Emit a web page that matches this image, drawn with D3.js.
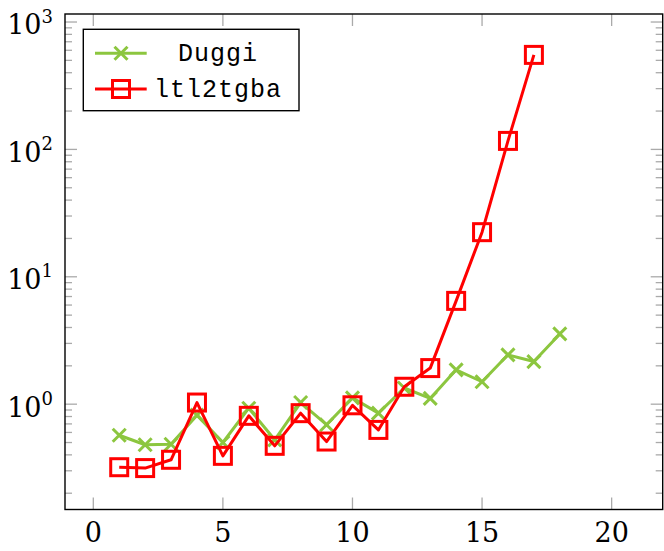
<!DOCTYPE html>
<html>
<head>
<meta charset="utf-8">
<script src="https://cdn.jsdelivr.net/npm/d3@7"></script>
<style>
	body { margin: 0; background: #fff; }
	svg { display: block; }
</style>
</head>
<body>
<div id="chart"></div>
<script>

// x positions (instance size) shared by both series
var sizes = [1, 2, 3, 4, 5, 6, 7, 8, 9, 10, 11, 12, 13, 14, 15, 16, 17, 18];

// run times
var duggi = [0.57, 0.48, 0.485, 0.82, 0.50, 0.93, 0.525, 1.03, 0.69, 1.12, 0.85, 1.34, 1.11, 1.86, 1.50, 2.44, 2.16, 3.56];
var ltl2tgba = [0.32, 0.315, 0.366, 1.03, 0.393, 0.81, 0.471, 0.85, 0.509, 0.98, 0.628, 1.37, 1.92, 6.47, 22.4, 116.6, 552];

var seriesNames = ["Duggi", "ltl2tgba"];
var xTickValues = [0, 5, 10, 15, 20];
var yTickExponents = [0, 1, 2, 3];

var W = 664, H = 551;
var box = { left: 65, right: 662.7, top: 14, bottom: 509.5 };
var serif = "'DejaVu Serif', 'Liberation Serif', serif";
var mono = "'Liberation Mono', 'DejaVu Sans Mono', monospace";

var x = d3.scaleLinear().domain([-1.092, 21.97]).range([box.left, box.right]);
var y = d3.scaleLog().domain([0.149, 1156]).range([box.bottom, box.top]);

var svg = d3.select("#chart").append("svg")
	.attr("width", W)
	.attr("height", H);

// ticks (pgfplots style: inside, mirrored on both sides)
var ticks = svg.append("g").attr("stroke", "#aaa").attr("stroke-width", 1.3);

xTickValues.forEach(function(v) {
	ticks.append("line").attr("x1", x(v)).attr("x2", x(v)).attr("y1", box.bottom).attr("y2", box.bottom - 12);
	ticks.append("line").attr("x1", x(v)).attr("x2", x(v)).attr("y1", box.top).attr("y2", box.top + 12);
});

y.ticks().forEach(function(v) {
	var major = Math.abs(Math.log10(v) - Math.round(Math.log10(v))) < 1e-9;
	var len = major ? 12 : 7;
	ticks.append("line").attr("x1", box.left).attr("x2", box.left + len).attr("y1", y(v)).attr("y2", y(v));
	ticks.append("line").attr("x1", box.right).attr("x2", box.right - len).attr("y1", y(v)).attr("y2", y(v));
});

// tick labels
svg.append("g").selectAll("text")
	.data(xTickValues)
	.enter().append("text")
	.attr("font-family", serif)
	.attr("x", function(d) { return x(d); })
	.attr("y", 542)
	.attr("text-anchor", "middle")
	.attr("font-size", 27)
	.text(function(d) { return d; });

var yl = svg.append("g").selectAll("text")
	.data(yTickExponents)
	.enter().append("text")
	.attr("font-family", serif)
	.attr("x", 53)
	.attr("y", function(d) { return y(Math.pow(10, d)) + 12.4; })
	.attr("text-anchor", "end")
	.attr("font-size", 27);
yl.append("tspan").text("10");
yl.append("tspan").attr("dy", -11.7).attr("font-size", 18).text(function(d) { return d; });

// series
var green = "rgb(140,198,63)", red = "rgb(255,0,0)";

var line = d3.line()
	.x(function(d) { return x(d[0]); })
	.y(function(d) { return y(d[1]); });

var duggiPts = duggi.map(function(v, i) { return [sizes[i], v]; });
var ltlPts = ltl2tgba.map(function(v, i) { return [sizes[i], v]; });

function cross(g, cx, cy, col) {
	var r = 6.5;
	g.append("path")
		.attr("d", "M" + (cx - r) + "," + (cy - r) + "L" + (cx + r) + "," + (cy + r) +
			"M" + (cx - r) + "," + (cy + r) + "L" + (cx + r) + "," + (cy - r))
		.attr("stroke", col).attr("stroke-width", 3).attr("fill", "none");
}

function square(g, cx, cy, col) {
	var s = 17;
	g.append("rect")
		.attr("x", cx - s / 2).attr("y", cy - s / 2)
		.attr("width", s).attr("height", s)
		.attr("stroke", col).attr("stroke-width", 3).attr("fill", "none");
}

var gDuggi = svg.append("g");
gDuggi.append("path").datum(duggiPts)
	.attr("d", line)
	.attr("fill", "none").attr("stroke", green).attr("stroke-width", 3).attr("stroke-linejoin", "round");
duggiPts.forEach(function(p) { cross(gDuggi, x(p[0]), y(p[1]), green); });

var gLtl = svg.append("g");
gLtl.append("path").datum(ltlPts)
	.attr("d", line)
	.attr("fill", "none").attr("stroke", red).attr("stroke-width", 3).attr("stroke-linejoin", "round");
ltlPts.forEach(function(p) { square(gLtl, x(p[0]), y(p[1]), red); });

// axis frame
svg.append("rect")
	.attr("x", box.left).attr("y", box.top)
	.attr("width", box.right - box.left).attr("height", box.bottom - box.top)
	.attr("fill", "none").attr("stroke", "#000").attr("stroke-width", 1.4);

// legend
var lg = svg.append("g");
lg.append("rect")
	.attr("x", 83.3).attr("y", 29.3).attr("width", 215.7).attr("height", 81.4)
	.attr("fill", "#fff").attr("stroke", "#000").attr("stroke-width", 1.4);

var legendRows = [
	{ name: seriesNames[0], col: green, mark: cross, y: 53.3 },
	{ name: seriesNames[1], col: red, mark: square, y: 89 }
];
legendRows.forEach(function(r) {
	lg.append("line")
		.attr("x1", 95).attr("x2", 146.7).attr("y1", r.y).attr("y2", r.y)
		.attr("stroke", r.col).attr("stroke-width", 3);
	r.mark(lg, 121, r.y, r.col);
	lg.append("text")
		.attr("font-family", mono)
		.attr("x", 218).attr("y", r.y + 8)
		.attr("text-anchor", "middle")
		.attr("font-size", 25)
		.attr("letter-spacing", 1)
		.text(r.name);
});

</script>
</body>
</html>
